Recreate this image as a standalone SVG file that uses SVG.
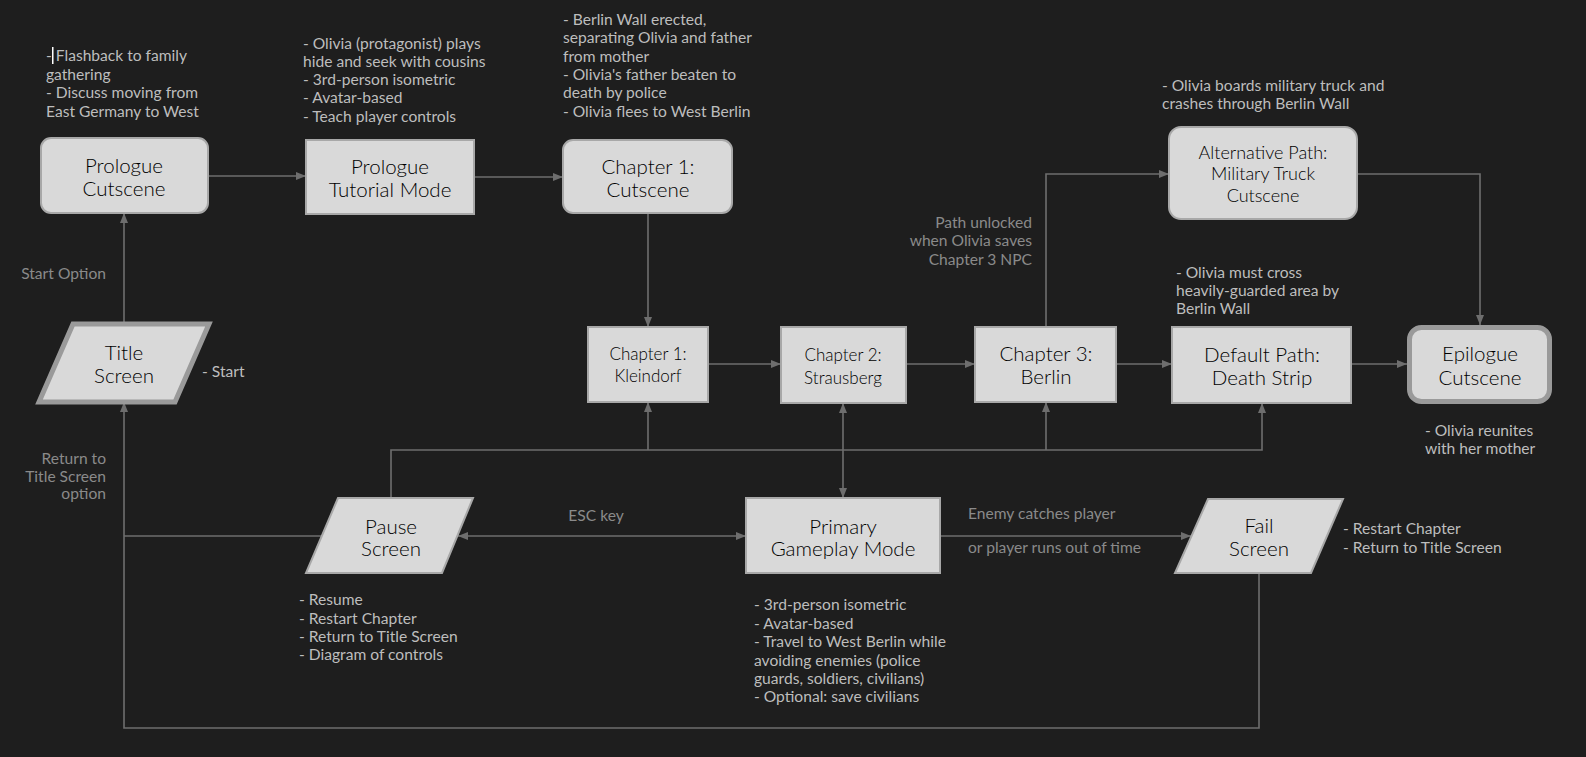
<svg xmlns="http://www.w3.org/2000/svg" width="1586" height="757" viewBox="0 0 1586 757">
<style>
text{font-family:Lato,"Open Sans","Liberation Sans",sans-serif;dominant-baseline:central}
.n{fill:#d9d9d9;stroke:#a8a8a8;stroke-width:2}
.nt{fill:#d9d9d9;stroke:#9a9a9a;stroke-width:5}
.t{fill:#000;font-size:20.5px;font-weight:300;text-anchor:middle}
.ts{fill:#000;font-size:17px;font-weight:300;text-anchor:middle}
.ta{fill:#000;font-size:18px;font-weight:300;text-anchor:middle}
.a{fill:#bdbdbd;font-size:15.6px}
.l{fill:#8a8a8a;font-size:15.6px}
.c{fill:none;stroke:#6e6e6e;stroke-width:1.6}
</style>
<defs>
<marker id="ar" viewBox="0 0 10 10" refX="10" refY="5" markerWidth="10" markerHeight="10" markerUnits="userSpaceOnUse" orient="auto-start-reverse">
<path d="M0,1 L10,5 L0,9 z" fill="#6e6e6e"/>
</marker>
</defs>
<rect width="1586" height="757" fill="#1e1e1e"/>

<g id="connectors">
<path class="c" d="M208,176 H306" marker-end="url(#ar)"/>
<path class="c" d="M474,177 H563" marker-end="url(#ar)"/>
<path class="c" d="M648,213 V327" marker-end="url(#ar)"/>
<path class="c" d="M708,364 H781" marker-end="url(#ar)"/>
<path class="c" d="M906,364 H975" marker-end="url(#ar)"/>
<path class="c" d="M1116,364 H1172" marker-end="url(#ar)"/>
<path class="c" d="M1351,364 H1407" marker-end="url(#ar)"/>
<path class="c" d="M1046,327 V174 H1169" marker-end="url(#ar)"/>
<path class="c" d="M1357,174 H1480 V325" marker-end="url(#ar)"/>
<path class="c" d="M124,324 V213" marker-end="url(#ar)"/>
<path class="c" d="M391,498 V450 H1262 V403" marker-end="url(#ar)"/>
<path class="c" d="M648,450 V402" marker-end="url(#ar)"/>
<path class="c" d="M843,450 V403" marker-end="url(#ar)"/>
<path class="c" d="M1046,450 V402" marker-end="url(#ar)"/>
<path class="c" d="M843,450 V498" marker-end="url(#ar)"/>
<path class="c" d="M458,536 H746" marker-start="url(#ar)" marker-end="url(#ar)"/>
<path class="c" d="M940,536 H1191" marker-end="url(#ar)"/>
<path class="c" d="M1259,573 V728 H124 V402" marker-end="url(#ar)"/>
<path class="c" d="M322,536 H124"/>
<text class="l" x="106" y="273" text-anchor="end">Start Option</text>
<text class="l" x="106" y="458" text-anchor="end">Return to</text>
<text class="l" x="106" y="476" text-anchor="end">Title Screen</text>
<text class="l" x="106" y="493" text-anchor="end">option</text>
<text class="l" x="596" y="515" text-anchor="middle">ESC key</text>
<text class="l" x="968" y="513">Enemy catches player</text>
<text class="l" x="968" y="547">or player runs out of time</text>
<text class="l" x="1032" y="222" text-anchor="end">Path unlocked</text>
<text class="l" x="1032" y="240" text-anchor="end">when Olivia saves</text>
<text class="l" x="1032" y="259" text-anchor="end">Chapter 3 NPC</text>
</g>

<g id="prologue-cutscene">
<rect class="n" x="41" y="138" width="167" height="75" rx="10"/>
<text class="t" x="124" y="165">Prologue</text>
<text class="t" x="124" y="188">Cutscene</text>
<text class="a" x="46" y="55">-  Flashback to family</text>
<rect x="52" y="47" width="1.5" height="17" fill="#ffffff"/>
<text class="a" x="46" y="74">gathering</text>
<text class="a" x="46" y="92">- Discuss moving from</text>
<text class="a" x="46" y="111">East Germany to West</text>
</g>

<g id="prologue-tutorial">
<rect class="n" x="306" y="140" width="168" height="74"/>
<text class="t" x="390" y="166">Prologue</text>
<text class="t" x="390" y="189">Tutorial Mode</text>
<text class="a" x="303" y="43">- Olivia (protagonist) plays</text>
<text class="a" x="303" y="61">hide and seek with cousins</text>
<text class="a" x="303" y="79">- 3rd-person isometric</text>
<text class="a" x="303" y="97">- Avatar-based</text>
<text class="a" x="303" y="116">- Teach player controls</text>
</g>

<g id="chapter1-cutscene">
<rect class="n" x="563" y="140" width="169" height="73" rx="10"/>
<text class="t" x="648" y="166">Chapter 1:</text>
<text class="t" x="648" y="189">Cutscene</text>
<text class="a" x="563" y="19">- Berlin Wall erected,</text>
<text class="a" x="563" y="37">separating Olivia and father</text>
<text class="a" x="563" y="56">from mother</text>
<text class="a" x="563" y="74">- Olivia's father beaten to</text>
<text class="a" x="563" y="92">death by police</text>
<text class="a" x="563" y="111">- Olivia flees to West Berlin</text>
</g>

<g id="alternative-path">
<rect class="n" x="1169" y="127" width="188" height="92" rx="12"/>
<text class="ta" x="1263" y="152">Alternative Path:</text>
<text class="ta" x="1263" y="173">Military Truck</text>
<text class="ta" x="1263" y="195">Cutscene</text>
<text class="a" x="1162" y="85">- Olivia boards military truck and</text>
<text class="a" x="1162" y="103">crashes through Berlin Wall</text>
</g>

<g id="title-screen">
<polygon class="nt" points="73,324 209,324 175,402 39,402"/>
<text class="t" x="124" y="352">Title</text>
<text class="t" x="124" y="375">Screen</text>
<text class="a" x="202" y="371">- Start</text>
</g>

<g id="chapter1-kleindorf">
<rect class="n" x="588" y="327" width="120" height="75"/>
<text class="ts" x="648" y="353">Chapter 1:</text>
<text class="ts" x="648" y="375">Kleindorf</text>
</g>

<g id="chapter2-strausberg">
<rect class="n" x="781" y="327" width="125" height="76"/>
<text class="ts" x="843" y="354">Chapter 2:</text>
<text class="ts" x="843" y="377">Strausberg</text>
</g>

<g id="chapter3-berlin">
<rect class="n" x="975" y="327" width="141" height="75"/>
<text class="t" x="1046" y="353">Chapter 3:</text>
<text class="t" x="1046" y="376">Berlin</text>
</g>

<g id="default-path">
<rect class="n" x="1172" y="327" width="179" height="76"/>
<text class="t" x="1262" y="354">Default Path:</text>
<text class="t" x="1262" y="377">Death Strip</text>
<text class="a" x="1176" y="272">- Olivia must cross</text>
<text class="a" x="1176" y="290">heavily-guarded area by</text>
<text class="a" x="1176" y="308">Berlin Wall</text>
</g>

<g id="epilogue-cutscene">
<rect class="nt" x="1409.5" y="327.5" width="140" height="74" rx="12"/>
<text class="t" x="1480" y="353">Epilogue</text>
<text class="t" x="1480" y="377">Cutscene</text>
<text class="a" x="1425" y="430">- Olivia reunites</text>
<text class="a" x="1425" y="448">with her mother</text>
</g>

<g id="pause-screen">
<polygon class="n" points="338,498 473,498 442,573 306,573"/>
<text class="t" x="391" y="526">Pause</text>
<text class="t" x="391" y="548">Screen</text>
<text class="a" x="299" y="599">- Resume</text>
<text class="a" x="299" y="618">- Restart Chapter</text>
<text class="a" x="299" y="636">- Return to Title Screen</text>
<text class="a" x="299" y="654">- Diagram of controls</text>
</g>

<g id="primary-gameplay">
<rect class="n" x="746" y="498" width="194" height="75"/>
<text class="t" x="843" y="526">Primary</text>
<text class="t" x="843" y="548">Gameplay Mode</text>
<text class="a" x="754" y="604">- 3rd-person isometric</text>
<text class="a" x="754" y="623">- Avatar-based</text>
<text class="a" x="754" y="641">- Travel to West Berlin while</text>
<text class="a" x="754" y="660">avoiding enemies (police</text>
<text class="a" x="754" y="678">guards, soldiers, civilians)</text>
<text class="a" x="754" y="696">- Optional: save civilians</text>
</g>

<g id="fail-screen">
<polygon class="n" points="1208,499 1343,499 1311,573 1175,573"/>
<text class="t" x="1259" y="525">Fail</text>
<text class="t" x="1259" y="548">Screen</text>
<text class="a" x="1343" y="528">- Restart Chapter</text>
<text class="a" x="1343" y="547">- Return to Title Screen</text>
</g>
</svg>
